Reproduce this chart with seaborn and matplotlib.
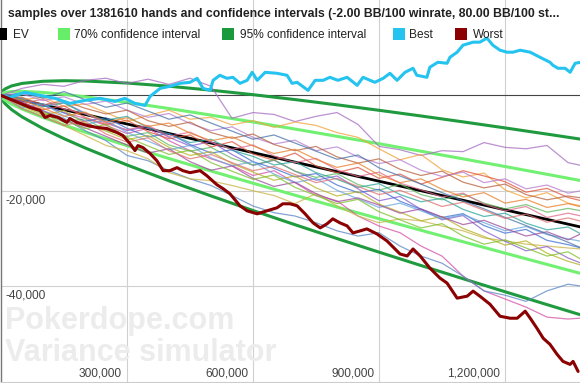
import matplotlib
matplotlib.use('Agg')
import matplotlib.pyplot as plt
import seaborn as sns
import pandas as pd
from matplotlib.patches import Rectangle

# ---------------- data ----------------
title_text = "samples over 1381610 hands and confidence intervals (-2.00 BB/100 winrate, 80.00 BB/100 st..."
legend_labels = ["EV", "70% confidence interval", "95% confidence interval", "Best", "Worst"]
x_tick_values = [300000, 600000, 900000, 1200000]
x_tick_labels = ["300,000", "600,000", "900,000", "1,200,000"]
y_tick_values = [-20000, -40000]
y_tick_labels = ["-20,000", "-40,000"]

ci_hands = [0, 2500, 5000, 10000, 25000, 50000, 100000, 150000, 200000, 300000, 400000,
            500000, 600000, 700000, 800000, 900000, 1000000, 1100000, 1200000, 1300000, 1381610]
ev = [0, -50, -100, -200, -500, -1000, -2000, -3000, -4000, -6000, -8000,
      -10000, -12000, -14000, -16000, -18000, -20000, -22000, -24000, -26000, -27632]
ci70_upper = [0, 364, 486, 629, 811, 853, 621, 210, -294, -1460, -2758,
              -4140, -5580, -7066, -8587, -10137, -11712, -13308, -14921, -16550, -17890]
ci70_lower = [0, -464, -686, -1029, -1811, -2853, -4621, -6210, -7706, -10540, -13242,
              -15860, -18420, -20934, -23413, -25863, -28288, -30692, -33079, -35450, -37374]
ci95_upper = [0, 734, 1009, 1368, 1979, 2506, 2958, 3073, 3012, 2588, 1917,
              1087, 146, -881, -1976, -3125, -4320, -5555, -6823, -8122, -9202]
ci95_lower = [0, -834, -1209, -1768, -2979, -4506, -6958, -9073, -11012, -14588, -17917,
              -21087, -24146, -27119, -30024, -32875, -35680, -38445, -41177, -43878, -46062]

best_hands = [0, 21000, 57000, 93000, 129000, 164000, 200000, 236000, 271000, 295000, 319000,
              343000, 355000, 379000, 402000, 426000, 450000, 467000, 481000, 498000, 505000,
              521000, 538000, 552000, 569000, 586000, 598000, 610000, 629000, 657000, 681000,
              693000, 705000, 731000, 748000, 767000, 783000, 802000, 824000, 848000, 862000,
              890000, 910000, 926000, 943000, 962000, 981000, 990000, 1014000, 1021000, 1040000,
              1062000, 1069000, 1086000, 1100000, 1124000, 1140000, 1157000, 1171000, 1188000,
              1205000, 1219000, 1236000, 1260000, 1283000, 1307000, 1314000, 1326000, 1343000,
              1355000, 1367000, 1381000]
best_bb = [0, -421, 632, 0, -632, -1684, -1053, -632, -1263, -632, -1684,
           -2105, -211, 1474, 1895, 2526, 2737, 3579, 1474, 1053, 3158,
           4210, 3579, 3789, 2526, 3158, 4842, 3158, 4842, 4631, 4210,
           2526, 2737, 1053, 3158, 3158, 3789, 3158, 3789, 2105, 3789,
           2737, 3579, 4631, 3158, 4842, 5684, 4210, 3789, 5894, 6947,
           6736, 8000, 9052, 10525, 11157, 11157, 12000, 10525, 9473,
           9052, 9052, 9473, 9052, 8000, 6947, 6315, 5684, 5684,
           4842, 6736, 6947]

worst_hands = [0, 69000, 93000, 105000, 117000, 136000, 157000, 164000, 181000, 205000, 229000,
               252000, 276000, 290000, 307000, 319000, 326000, 338000, 355000, 371000, 386000,
               402000, 419000, 433000, 450000, 474000, 490000, 514000, 529000, 545000, 569000,
               586000, 610000, 633000, 657000, 671000, 688000, 705000, 724000, 743000, 760000,
               776000, 790000, 807000, 824000, 838000, 855000, 871000, 895000, 919000, 950000,
               967000, 981000, 998000, 1021000, 1045000, 1062000, 1086000, 1110000, 1124000,
               1140000, 1164000, 1188000, 1212000, 1229000, 1248000, 1260000, 1276000, 1291000,
               1307000, 1324000, 1338000, 1355000, 1362000, 1374000]
worst_bb = [0, -2526, -3158, -4631, -4210, -4631, -5684, -4842, -5684, -6315, -6736,
            -6947, -7789, -8420, -10104, -11578, -10525, -10946, -12209, -13683, -15788,
            -15788, -15156, -15788, -16209, -15788, -16840, -18735, -19577, -20629, -23155,
            -24208, -24839, -24208, -23576, -22734, -22734, -23155, -24839, -26734, -27786,
            -26944, -25892, -26734, -27365, -28839, -28418, -27997, -29049, -30523, -33259,
            -33680, -32207, -33680, -36206, -38311, -39364, -42521, -42100, -41048,
            -42100, -43784, -46310, -46731, -46731, -45258, -46731, -48836, -50941,
            -52204, -54309, -55783, -56414, -55783, -57888]

sample_hands = [0, 50000, 100000, 150000, 200000, 250000, 300000, 350000, 400000, 450000,
                500000, 550000, 600000, 650000, 700000, 750000, 800000, 850000, 900000, 950000,
                1000000, 1050000, 1100000, 1150000, 1200000, 1250000, 1300000, 1350000, 1381610]
sample_a = [0, 1470, 2300, 1900, 3150, 3600, 2500, 3400, 2300, 3600, 1900, -4800, -3600, -4000, -5500, -4400, -3600, -6100, -10700, -11400, -12600, -11600, -11800, -9900, -10900, -11200, -10500, -14100, -14700]
sample_b = [0, -1050, -2100, -3600, -4800, -6300, -8000, -6900, -9500, -11600, -13300, -14700, -16800, -15800, -18300, -21000, -22100, -25300, -27400, -28800, -31600, -33700, -37900, -41000, -42700, -44400, -46500, -46900, -46700]
sample_c = [0, -1700, -3200, -4800, -7400, -9500, -12600, -13700, -15800, -17500, -18900, -21000, -23200, -24600, -25300, -26700, -28400, -29500, -28800, -31600, -33700, -35200, -37900, -41000, -41900, -43200, -41000, -39600, -40000]
sample_d = [0, -2100, -3600, -6300, -8400, -10500, -11600, -13300, -16200, -17500, -17900, -18900, -20000, -21000, -22700, -20600, -23200, -25300, -26700, -25900, -26300, -27400, -28400, -29900, -30500, -31200, -31600, -32000, -32200]
sample_e = [0, -600, -2200, -1500, -3700, -5600, -7400, -6500, -8800, -10600, -9700, -12400, -14700, -13600, -15900, -17800, -16900, -19600, -22100, -21200, -23900, -26100, -25200, -28400, -30600, -32600, -31700, -34100, -35200]
sample_f = [0, -900, -400, -2300, -1800, -3600, -5500, -4200, -3100, -5000, -4600, -6200, -5300, -6700, -5600, -6300, -7800, -8800, -11200, -13500, -12400, -15600, -17100, -16300, -19800, -21500, -20400, -22600, -23200]
sample_g = [0, -1500, -3000, -2200, -4600, -6100, -5200, -7600, -9100, -8300, -10800, -9700, -12300, -13600, -12100, -14800, -16200, -15100, -17400, -16500, -18600, -17200, -15800, -16900, -18100, -20300, -19500, -21400, -22100]
sample_h = [0, -2100, -3800, -5600, -4900, -7300, -8600, -7800, -10400, -11700, -10900, -13200, -14600, -13500, -15900, -17200, -16400, -18700, -19900, -18600, -20800, -21900, -20700, -22600, -23800, -22900, -24500, -23700, -24200]
sample_i = [0, -800, -2400, -1600, -3900, -5200, -4400, -6800, -8100, -9900, -9200, -11500, -12800, -14600, -13900, -16200, -17600, -19300, -18500, -20800, -22300, -21600, -23900, -25400, -24700, -26800, -28200, -27600, -29100]
sample_j = [0, -1200, -1900, -3700, -5400, -4700, -6900, -8700, -8000, -10300, -12100, -11400, -13900, -15300, -17100, -16400, -18800, -20400, -19700, -22200, -23900, -25600, -24800, -27300, -28900, -28100, -30400, -31300, -32000]
sample_k = [0, 300, -1100, -300, -1900, -1200, -3100, -4600, -3800, -5900, -7400, -6600, -8800, -10200, -9400, -11600, -10800, -12900, -14300, -13500, -15700, -17000, -16100, -18300, -17500, -19600, -18800, -20500, -20000]
sample_l = [0, -2300, -4100, -3200, -5800, -7500, -9300, -8400, -10900, -12600, -11800, -14300, -16100, -17800, -16900, -19400, -21100, -20200, -22800, -24500, -26300, -25400, -27900, -29600, -31400, -30500, -33100, -34800, -35600]
sample_m = [0, -1700, -800, -2900, -3800, -5900, -7200, -6300, -8600, -7700, -9800, -11300, -10400, -12700, -14100, -13200, -15600, -17000, -16100, -18400, -19800, -21300, -20500, -22800, -24200, -23300, -25600, -24700, -25300]
sample_n = [0, -400, -2000, -1100, -2700, -3900, -3100, -5300, -6500, -5600, -7800, -9000, -8100, -10300, -11600, -10700, -12900, -14200, -13300, -15500, -16800, -15900, -18200, -19400, -18600, -20800, -21900, -21100, -21500]
sample_o = [0, -2600, -1700, -4300, -6100, -5200, -7800, -9600, -11400, -10500, -13100, -14800, -13900, -16500, -18300, -17400, -19900, -21700, -23500, -22600, -24200, -25900, -25000, -26700, -28400, -27500, -29200, -30100, -30600]
sample_p = [0, -1000, -2700, -4400, -3500, -5600, -4700, -6500, -5800, -7900, -9500, -8700, -10600, -12200, -11300, -13400, -15100, -14200, -16700, -18300, -17500, -19700, -21300, -20400, -22600, -21800, -23500, -22700, -23400]
sample_q = [0, -1400, -3300, -5100, -6800, -8600, -10400, -12100, -11200, -13900, -15700, -14800, -17400, -19100, -18200, -20600, -22300, -21500, -23000, -24700, -23800, -25500, -27100, -26200, -27900, -29500, -28600, -30300, -29000]
sample_r = [0, -1900, -3500, -5200, -7000, -6100, -8800, -10600, -12400, -11500, -14100, -15900, -17600, -16700, -19300, -21000, -22700, -21800, -24400, -26100, -27800, -26900, -29500, -31200, -30300, -32000, -33700, -32800, -34400]
sample_s = [0, 500, -600, 800, -900, -2500, -1600, -3300, -5000, -4100, -5800, -7500, -9200, -8300, -10000, -11700, -13400, -12500, -15200, -16900, -18600, -20400, -22100, -23800, -25600, -27300, -29000, -30800, -32000]
sample_t = [0, -2800, -4500, -6300, -5400, -8100, -9800, -8900, -11600, -13300, -12400, -14100, -15800, -14900, -16600, -18300, -17400, -19100, -20800, -19900, -21600, -23300, -22400, -24100, -25800, -24900, -26600, -25700, -26400]

samples = {"a": sample_a, "b": sample_b, "c": sample_c, "d": sample_d, "e": sample_e,
           "f": sample_f, "g": sample_g, "h": sample_h, "i": sample_i, "j": sample_j,
           "k": sample_k, "l": sample_l, "m": sample_m, "n": sample_n, "o": sample_o,
           "p": sample_p, "q": sample_q, "r": sample_r, "s": sample_s, "t": sample_t}
sample_colors = {"a": "#a56cc1", "b": "#d550a8", "c": "#5b86c5", "d": "#c9b444", "e": "#8a5ad0",
                 "f": "#f2a33a", "g": "#e0533a", "h": "#5cb85c", "i": "#2aa59a", "j": "#3d6fd0",
                 "k": "#b57ed0", "l": "#b5b020", "m": "#e06a8c", "n": "#b8623e", "o": "#66a6dd",
                 "p": "#e8802a", "q": "#9c4a9c", "r": "#7cbf2a", "s": "#4a73a8", "t": "#e07070"}

# ---------------- styling ----------------
sns.set_style("white")
plt.rcParams['font.family'] = ['Liberation Sans', 'DejaVu Sans']

W, H = 580, 383
fig = plt.figure(figsize=(W / 100, H / 100), dpi=100)
ax = fig.add_axes([1 / W, 1.5 / H, 580.3 / W, 381.5 / H])
ax.set_xlim(0, 1381610)
ax.set_ylim(-60000, 20000)

# grid
for xv in x_tick_values:
    ax.axvline(xv, color="#d0d0d0", lw=0.8, zorder=0)
for yv in y_tick_values:
    ax.axhline(yv, color="#d0d0d0", lw=0.8, zorder=0)
ax.axhline(0, color="#444444", lw=0.8, zorder=1)
ax.set_xticks([])
ax.set_yticks([])
for s in ["top", "right"]:
    ax.spines[s].set_visible(False)
ax.spines["left"].set_color("#777777")
ax.spines["left"].set_linewidth(1.0)
ax.spines["bottom"].set_color("#cccccc")
ax.spines["bottom"].set_linewidth(0.8)

# watermark
fig.text(5 / W, 1 - 329 / H, "Pokerdope.com", fontsize=22, fontweight="bold",
         color="#ececec", va="baseline", ha="left", zorder=0)
fig.text(5 / W, 1 - 361 / H, "Variance simulator", fontsize=22, fontweight="bold",
         color="#ececec", va="baseline", ha="left", zorder=0)

c70 = "#72f072"
c95 = "#1f9a3e"
cbest = "#25c3f0"
cworst = "#8b0000"

# confidence intervals and EV
for yy, col in [(ci95_upper, c95), (ci95_lower, c95), (ci70_upper, c70), (ci70_lower, c70)]:
    sns.lineplot(x=ci_hands, y=yy, ax=ax, color=col, lw=2.2, estimator=None, sort=False, zorder=2)
sns.lineplot(x=ci_hands, y=ev, ax=ax, color="#000000", lw=2.0, estimator=None, sort=False, zorder=3)

# sample paths
rows = []
for name, vals in samples.items():
    for hx, v in zip(sample_hands, vals):
        rows.append((name, hx, v))
df = pd.DataFrame(rows, columns=["sample", "hands", "bb"])
sns.lineplot(data=df, x="hands", y="bb", hue="sample", palette=sample_colors, ax=ax,
             lw=0.9, alpha=0.75, estimator=None, sort=False, legend=False, zorder=4)

# best / worst
sns.lineplot(x=best_hands, y=best_bb, ax=ax, color=cbest, lw=2.2, estimator=None, sort=False, zorder=5)
sns.lineplot(x=worst_hands, y=worst_bb, ax=ax, color=cworst, lw=2.2, estimator=None, sort=False, zorder=5)
ax.set_xlabel("")
ax.set_ylabel("")

# axis labels (inside plot)
for xv, lab in zip(x_tick_values, x_tick_labels):
    ax.annotate(lab, xy=(xv, -60000), xytext=(-3.6, 3.6), textcoords="offset points",
                ha="right", va="baseline", fontsize=8.6, color="#444444", zorder=6)
for yv, lab in zip(y_tick_values, y_tick_labels):
    ax.annotate(lab, xy=(0, yv), xytext=(3.0, -2.5), textcoords="offset points",
                ha="left", va="top", fontsize=8.6, color="#444444", zorder=6)

# title
fig.text(8 / W, 1 - 17.5 / H, title_text, fontsize=8.85, fontweight="bold",
         color="#222222", ha="left", va="baseline")

# legend
leg_sq_x = [-5, 57.5, 222, 393, 455]
leg_tx_x = [13, 73.5, 240, 409, 473]
leg_cols = ["#000000", "#66ee66", "#1a9a3a", cbest, cworst]
for sx, tx, col, lab in zip(leg_sq_x, leg_tx_x, leg_cols, legend_labels):
    fig.add_artist(Rectangle((sx / W, 1 - 40 / H), 12 / W, 12 / H, transform=fig.transFigure,
                             facecolor=col, edgecolor="none", zorder=7))
    fig.text(tx / W, 1 - 38.5 / H, lab, fontsize=8.6, color="#222222", ha="left", va="baseline", zorder=7)

fig.savefig("out.png", dpi=100)
